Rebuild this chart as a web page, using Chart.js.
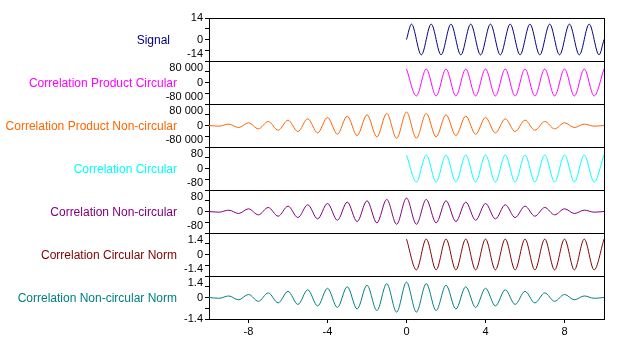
<!doctype html>
<html>

	<head>
		<meta charset="utf-8" />
		<title>Correlation</title>

		<style>
			html	{ height: 100% }
			body	{ height: 100%; margin: 0; padding: 0; background: #fff }
			canvas	{ display:block; }
		</style>

		<script src="https://cdn.jsdelivr.net/npm/chart.js@4/dist/chart.umd.min.js"></script>

		<script>

			// signal, sampled at its zero start, peaks and troughs
			var signalTime = [0, 0.25, 0.75, 1.25, 1.75, 2.25, 2.75, 3.25, 3.75, 4.25, 4.75, 5.25, 5.75, 6.25, 6.75, 7.25, 7.75, 8.25, 8.75, 9.25, 9.75, 10];
			var signalValues = [0, 10, -10, 10, -10, 10, -10, 10, -10, 10, -10, 10, -10, 10, -10, 10, -10, 10, -10, 10, -10, 0];

			// circular correlations, lag 0..10
			var circularLag = [0, 0.5, 1, 1.5, 2, 2.5, 3, 3.5, 4, 4.5, 5, 5.5, 6, 6.5, 7, 7.5, 8, 8.5, 9, 9.5, 10];
			var circularProduct = [50000, -50000, 50000, -50000, 50000, -50000, 50000, -50000, 50000, -50000, 50000, -50000, 50000, -50000, 50000, -50000, 50000, -50000, 50000, -50000, 50000];
			var circularCorr = [50, -50, 50, -50, 50, -50, 50, -50, 50, -50, 50, -50, 50, -50, 50, -50, 50, -50, 50, -50, 50];
			var circularNorm = [1, -1, 1, -1, 1, -1, 1, -1, 1, -1, 1, -1, 1, -1, 1, -1, 1, -1, 1, -1, 1];

			// non-circular correlations, lag -10..10
			var fullLag = [-10, -9.5, -9, -8.5, -8, -7.5, -7, -6.5, -6, -5.5, -5, -4.5, -4, -3.5, -3, -2.5, -2, -1.5, -1, -0.5, 0,
				0.5, 1, 1.5, 2, 2.5, 3, 3.5, 4, 4.5, 5, 5.5, 6, 6.5, 7, 7.5, 8, 8.5, 9, 9.5, 10];
			var nonCircularProduct = [0, -2500, 5000, -7500, 10000, -12500, 15000, -17500, 20000, -22500, 25000, -27500, 30000, -32500, 35000, -37500, 40000, -42500, 45000, -47500, 50000,
				-47500, 45000, -42500, 40000, -37500, 35000, -32500, 30000, -27500, 25000, -22500, 20000, -17500, 15000, -12500, 10000, -7500, 5000, -2500, 0];
			var nonCircularCorr = [0, -2.5, 5, -7.5, 10, -12.5, 15, -17.5, 20, -22.5, 25, -27.5, 30, -32.5, 35, -37.5, 40, -42.5, 45, -47.5, 50,
				-47.5, 45, -42.5, 40, -37.5, 35, -32.5, 30, -27.5, 25, -22.5, 20, -17.5, 15, -12.5, 10, -7.5, 5, -2.5, 0];
			var nonCircularNorm = [0, -0.05, 0.1, -0.15, 0.2, -0.25, 0.3, -0.35, 0.4, -0.45, 0.5, -0.55, 0.6, -0.65, 0.7, -0.75, 0.8, -0.85, 0.9, -0.95, 1,
				-0.95, 0.9, -0.85, 0.8, -0.75, 0.7, -0.65, 0.6, -0.55, 0.5, -0.45, 0.4, -0.35, 0.3, -0.25, 0.2, -0.15, 0.1, -0.05, 0];

			// axis ticks
			var signalTicks = [-14, -7, 0, 7, 14];
			var productTicks = [-80000, -40000, 0, 40000, 80000];
			var corrTicks = [-80, -40, 0, 40, 80];
			var normTicks = [-1.4, -0.7, 0, 0.7, 1.4];
			var lagTicks = [-8, -4, 0, 4, 8];

			var panels = [
				{ id: 'p1', title: 'Signal', color: '#000080', x: signalTime, y: signalValues, ticks: signalTicks },
				{ id: 'p2', title: 'Correlation Product Circular', color: '#ff00ff', x: circularLag, y: circularProduct, ticks: productTicks },
				{ id: 'p3', title: 'Correlation Product Non-circular', color: '#ff6600', x: fullLag, y: nonCircularProduct, ticks: productTicks },
				{ id: 'p4', title: 'Correlation Circular', color: '#00ffff', x: circularLag, y: circularCorr, ticks: corrTicks },
				{ id: 'p5', title: 'Correlation Non-circular', color: '#800080', x: fullLag, y: nonCircularCorr, ticks: corrTicks },
				{ id: 'p6', title: 'Correlation Circular Norm', color: '#800000', x: circularLag, y: circularNorm, ticks: normTicks },
				{ id: 'p7', title: 'Correlation Non-circular Norm', color: '#008080', x: fullLag, y: nonCircularNorm, ticks: normTicks }
			];

			function formatValue(v) {
				var s = Math.abs(v).toString().replace(/\B(?=(\d{3})+(?!\d))/g, ' ');
				return (v < 0 ? '-' : '') + s;
			}

			function yScale(p, isTop, isBottom) {
				var t = p.ticks;
				var lo = t[0], hi = t[t.length - 1];
				return {
					type: 'linear',
					position: 'left',
					stack: 'panels',
					stackWeight: 1,
					min: lo,
					max: hi,
					afterBuildTicks: function(s) {
						s.ticks = t.map(function(v) { return { value: v }; });
					},
					afterFit: function(s) { s.width = 209; },
					border: { display: true, color: '#000', width: 1 },
					grid: {
						color: function(c) {
							return (c.tick && (c.tick.value === lo || c.tick.value === hi)) ? '#000' : 'rgba(0,0,0,0)';
						},
						tickColor: '#000',
						tickLength: 4,
						lineWidth: 1
					},
					ticks: {
						autoSkip: false,
						padding: 2,
						color: '#000',
						font: { size: 11 },
						callback: function(v) {
							if (v === 0) return '0';
							// edge labels are pushed inside their own panel
							if (v === hi) return isTop ? formatValue(v) : ['', formatValue(v)];
							if (v === lo) return isBottom ? formatValue(v) : [formatValue(v), ''];
							return '';
						}
					}
				};
			}

			var panelTitles = {
				id: 'panelTitles',
				afterDraw: function(chart) {
					var ctx = chart.ctx;
					ctx.save();
					ctx.font = '12px "Liberation Sans", Arial, sans-serif';
					ctx.textAlign = 'right';
					ctx.textBaseline = 'middle';
					panels.forEach(function(p, i) {
						ctx.fillStyle = p.color;
						ctx.fillText(p.title, i === 0 ? 170 : 177, chart.scales[p.id].getPixelForValue(0) + 1);
					});
					ctx.restore();
				}
			};

			function createChart() {

				Chart.defaults.font.family = '"Liberation Sans", Arial, sans-serif';
				Chart.defaults.color = '#000';

				var scales = {
					x: {
						type: 'linear',
						min: -10,
						max: 10,
						afterBuildTicks: function(s) {
							s.ticks = [-10].concat(lagTicks, [10]).map(function(v) { return { value: v }; });
						},
						afterFit: function(s) { s.height = 43; },
						border: { display: true, color: '#000', width: 1 },
						grid: {
							color: function(c) {
								return (c.tick && Math.abs(c.tick.value) === 10) ? '#000' : 'rgba(0,0,0,0)';
							},
							tickColor: function(c) {
								return (c.tick && Math.abs(c.tick.value) === 10) ? 'rgba(0,0,0,0)' : '#000';
							},
							tickLength: 4,
							lineWidth: 1
						},
						ticks: {
							autoSkip: false,
							maxRotation: 0,
							padding: 2,
							color: '#000',
							font: { size: 11 },
							callback: function(v) { return Math.abs(v) === 10 ? '' : String(v); }
						}
					}
				};

				// stacked boxes are placed top-down from the last one defined
				for (var i = panels.length - 1; i >= 0; i--) {
					scales[panels[i].id] = yScale(panels[i], i === 0, i === panels.length - 1);
				}

				var datasets = panels.map(function(p) {
					return {
						label: p.title,
						yAxisID: p.id,
						xAxisID: 'x',
						data: p.x.map(function(v, k) { return { x: v, y: p.y[k] }; }),
						borderColor: p.color,
						borderWidth: 1,
						pointRadius: 0,
						fill: false,
						cubicInterpolationMode: 'monotone'
					};
				});

				new Chart(document.getElementById('canvas').getContext('2d'), {
					type: 'line',
					data: { datasets: datasets },
					options: {
						responsive: false,
						animation: false,
						devicePixelRatio: 1,
						layout: { padding: { top: 18, right: 18, bottom: 0, left: 0 } },
						plugins: {
							legend: { display: false },
							tooltip: { enabled: false }
						},
						scales: scales
					},
					plugins: [panelTitles]
				});
			}

		</script>

	</head>

	<body onload="createChart();">

		<canvas id="canvas" width="622" height="362"></canvas>

	</body>

</html>
